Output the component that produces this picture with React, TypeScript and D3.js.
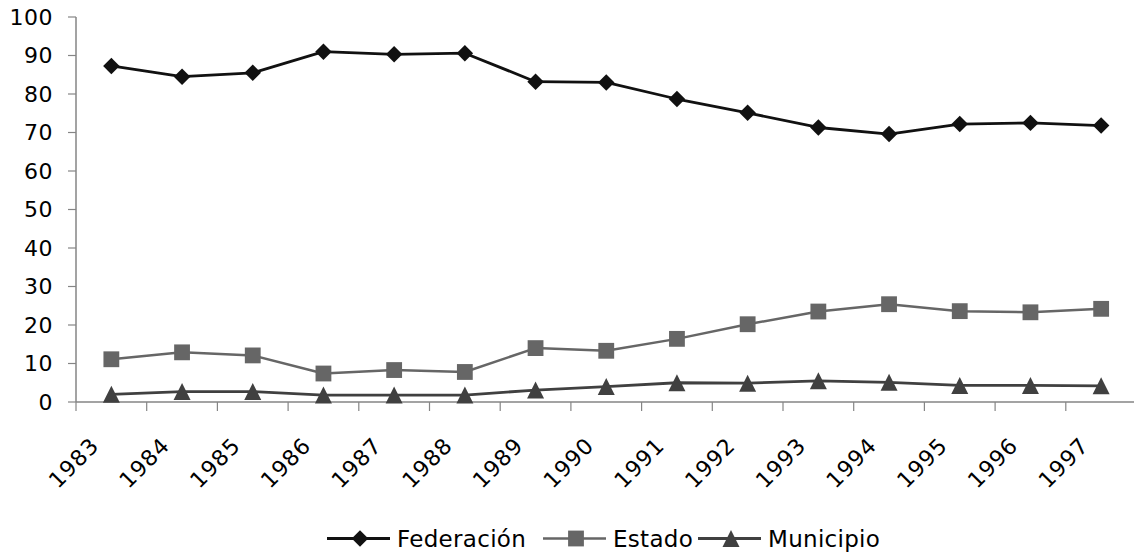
import { useEffect, useRef } from 'react';
import * as d3 from 'd3';

// values (percent share)
const years = ['1983', '1984', '1985', '1986', '1987', '1988', '1989', '1990', '1991', '1992', '1993', '1994', '1995', '1996', '1997'];
const federacion = [87.3, 84.5, 85.5, 91.0, 90.3, 90.6, 83.2, 83.0, 78.7, 75.1, 71.3, 69.6, 72.2, 72.5, 71.8];
const estado = [11.1, 12.9, 12.1, 7.4, 8.3, 7.8, 14.0, 13.3, 16.4, 20.2, 23.5, 25.4, 23.6, 23.3, 24.2];
const municipio = [2.0, 2.7, 2.7, 1.8, 1.8, 1.8, 3.1, 4.0, 5.0, 4.9, 5.5, 5.1, 4.3, 4.3, 4.2];
const yTicks = [0, 10, 20, 30, 40, 50, 60, 70, 80, 90, 100];

const W = 1134;
const H = 556;
const FONT = '"DejaVu Sans", Verdana, sans-serif';

// diamond = square turned 45deg, triangle = isosceles pointing up
const diamondType = {
  draw(ctx: any, size: number) {
    const r = Math.sqrt(size) / 2;
    ctx.moveTo(0, -r);
    ctx.lineTo(r, 0);
    ctx.lineTo(0, r);
    ctx.lineTo(-r, 0);
    ctx.closePath();
  }
};
const triangleType = {
  draw(ctx: any, size: number) {
    const r = Math.sqrt(size) / 2;
    ctx.moveTo(0, -r);
    ctx.lineTo(r, r);
    ctx.lineTo(-r, r);
    ctx.closePath();
  }
};

const series = [
  { name: 'Federación', values: federacion, color: '#111111', width: 2.8, type: diamondType, size: 272 },
  { name: 'Estado', values: estado, color: '#666666', width: 2.5, type: d3.symbolSquare, size: 250 },
  { name: 'Municipio', values: municipio, color: '#404040', width: 2.8, type: triangleType, size: 289 },
];

export default function App() {
  const ref = useRef<SVGSVGElement>(null);

  useEffect(() => {
    const svg = d3.select(ref.current);
    svg.selectAll('*').remove();

    const left = 76;
    const step = 70.7;
    const x = d3.scaleBand().domain(years).range([left, left + step * years.length]);
    const y = d3.scaleLinear().domain([0, 100]).range([402, 17]);
    const cx = (i: number) => (x(years[i]) as number) + x.bandwidth() / 2;

    const axisColor = '#858585';

    // y axis
    const gy = svg.append('g');
    gy.append('line')
      .attr('x1', left).attr('x2', left)
      .attr('y1', y(100)).attr('y2', y(0))
      .attr('stroke', axisColor).attr('stroke-width', 1.5);
    gy.selectAll('line.tick').data(yTicks).join('line')
      .attr('class', 'tick')
      .attr('x1', left - 8).attr('x2', left)
      .attr('y1', d => y(d)).attr('y2', d => y(d))
      .attr('stroke', axisColor).attr('stroke-width', 1.2);
    gy.selectAll('text').data(yTicks).join('text')
      .attr('x', 53).attr('y', d => y(d))
      .attr('dy', '0.36em')
      .attr('text-anchor', 'end')
      .style('font-family', FONT).style('font-size', '22px')
      .style('letter-spacing', '0.5px')
      .attr('fill', '#000')
      .text(d => d);

    // x axis
    const gx = svg.append('g');
    gx.append('line')
      .attr('x1', left).attr('x2', W)
      .attr('y1', y(0)).attr('y2', y(0))
      .attr('stroke', axisColor).attr('stroke-width', 1.5);
    const bounds = d3.range(years.length + 1).map(i => left + i * x.bandwidth());
    gx.selectAll('line.tick').data(bounds).join('line')
      .attr('class', 'tick')
      .attr('x1', d => d).attr('x2', d => d)
      .attr('y1', y(0)).attr('y2', y(0) + 9)
      .attr('stroke', axisColor).attr('stroke-width', 1.2);
    gx.selectAll('text').data(years).join('text')
      .attr('transform', (d, i) => `translate(${cx(i) - 11},${447}) rotate(-45)`)
      .attr('text-anchor', 'end')
      .style('font-family', FONT).style('font-size', '22px')
      .style('letter-spacing', '1px')
      .attr('fill', '#000')
      .text(d => d);

    // series lines + markers
    const line = d3.line<number>()
      .x((d, i) => cx(i))
      .y(d => y(d));

    series.forEach(s => {
      const g = svg.append('g');
      g.append('path')
        .attr('d', line(s.values))
        .attr('fill', 'none')
        .attr('stroke', s.color)
        .attr('stroke-width', s.width)
        .attr('stroke-linejoin', 'round');
      const sym = d3.symbol().type(s.type as any).size(s.size);
      g.selectAll('path.m').data(s.values).join('path')
        .attr('class', 'm')
        .attr('d', sym())
        .attr('transform', (d, i) => `translate(${cx(i)},${y(d)})`)
        .attr('fill', s.color);
    });

    // legend
    const legendX = [327, 543, 698];
    const legendY = 538.5;
    series.forEach((s, i) => {
      const g = svg.append('g').attr('transform', `translate(${legendX[i]},${legendY})`);
      g.append('line')
        .attr('x1', 0).attr('x2', 63)
        .attr('stroke', s.color).attr('stroke-width', s.width);
      const sym = d3.symbol().type(s.type as any).size(s.size);
      g.append('path')
        .attr('d', sym())
        .attr('transform', 'translate(33,0)')
        .attr('fill', s.color);
      g.append('text')
        .attr('x', 70).attr('dy', '0.38em')
        .style('font-family', FONT).style('font-size', '23px')
        .style('letter-spacing', '0.3px')
        .attr('fill', '#000')
        .text(s.name);
    });
  }, []);

  return (
    <svg
      ref={ref}
      width={W}
      height={H}
      style={{ position: 'absolute', left: 0, top: 0, background: '#fff' }}
    />
  );
}
